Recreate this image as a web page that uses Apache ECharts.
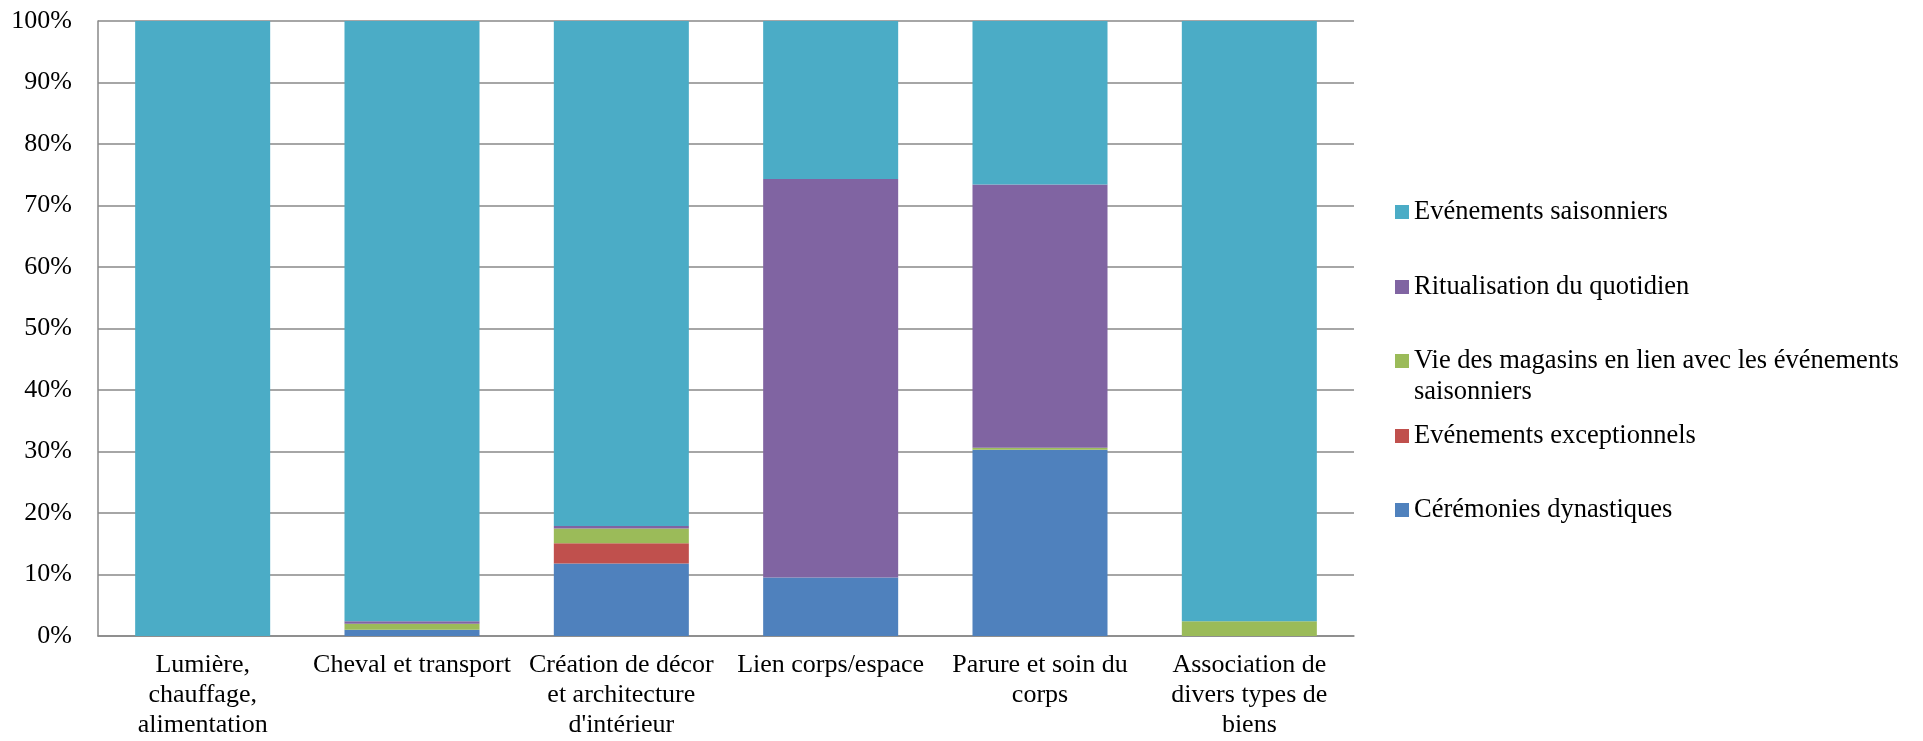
<!DOCTYPE html>
<html>
<head>
<meta charset="utf-8">
<script src="https://cdn.jsdelivr.net/npm/echarts@6/dist/echarts.min.js"></script>
<style>
html,body{margin:0;padding:0;background:#fff;}
#chart{width:1923px;height:741px;}
</style>
</head>
<body>
<div id="chart"></div>
<script>
var categories = [
  "Lumière,\nchauffage,\nalimentation",
  "Cheval et transport",
  "Création de décor\net architecture\nd'intérieur",
  "Lien corps/espace",
  "Parure et soin du\ncorps",
  "Association de\ndivers types de\nbiens"
];
var yTicks = [0, 10, 20, 30, 40, 50, 60, 70, 80, 90, 100];

var ceremonies     = [0, 1.0, 11.8, 9.5, 30.3, 0];
var exceptionnels  = [0, 0,   3.3,  0,   0,    0];
var magasins       = [0, 1.0, 2.4,  0,   0.3,  2.4];
var ritualisation  = [0, 0.4, 0.4,  64.8, 42.8, 0];
var saisonniers    = [100, 97.6, 82.1, 25.7, 26.6, 97.6];

var names = {
  ceremonies: "Cérémonies dynastiques",
  exceptionnels: "Evénements exceptionnels",
  magasins: "Vie des magasins en lien avec les événements saisonniers",
  ritualisation: "Ritualisation du quotidien",
  saisonniers: "Evénements saisonniers"
};
var magasinsLine1 = "Vie des magasins en lien avec les événements";
var magasinsLine2 = "saisonniers";

var colors = {
  ceremonies: "#4F81BD",
  exceptionnels: "#C0504D",
  magasins: "#9BBB59",
  ritualisation: "#8064A2",
  saisonniers: "#4BACC6"
};

var FONT = '"Liberation Serif", "Times New Roman", serif';
var LEG_FS = 26.5;
var chart = echarts.init(document.getElementById('chart'), null, {renderer: 'canvas'});

function mk(key, data) {
  return {
    name: names[key],
    type: 'bar',
    stack: 'total',
    data: data,
    barCategoryGap: '35.5%',
    itemStyle: {color: colors[key]},
    emphasis: {disabled: true}
  };
}

function legendItem(key, top, fmt) {
  var l = {
    show: true,
    orient: 'vertical',
    left: 1395,
    top: top,
    padding: 0,
    itemWidth: 14,
    itemHeight: 14,
    itemGap: 0,
    icon: 'rect',
    selectedMode: false,
    data: [names[key]],
    textStyle: {
      fontFamily: FONT,
      fontSize: LEG_FS,
      lineHeight: 30,
      color: '#000'
    }
  };
  if (fmt) l.formatter = fmt;
  return l;
}

var option = {
  animation: false,
  backgroundColor: '#fff',
  color: [colors.ceremonies, colors.exceptionnels, colors.magasins, colors.ritualisation, colors.saisonniers],
  grid: {left: 98, right: 569, top: 21, bottom: 105, containLabel: false},
  legend: [
    legendItem('saisonniers', 212 - 15),
    legendItem('ritualisation', 287 - 15),
    legendItem('magasins', 361 - 15, function () { return magasinsLine1; }),
    legendItem('exceptionnels', 436 - 15),
    legendItem('ceremonies', 510 - 15)
  ],
  graphic: [{
    type: 'text',
    left: 1414,
    top: 392 - 15,
    style: {
      text: magasinsLine2,
      fontFamily: FONT,
      fontSize: LEG_FS,
      lineHeight: 30,
      fill: '#000'
    }
  }],
  xAxis: {
    type: 'category',
    data: categories,
    axisLine: {show: true, lineStyle: {color: '#888', width: 1.5}},
    axisTick: {show: false},
    axisLabel: {
      interval: 0,
      margin: 14,
      fontFamily: FONT,
      fontSize: 26,
      lineHeight: 30,
      color: '#000',
      align: 'center'
    }
  },
  yAxis: {
    type: 'value',
    min: yTicks[0],
    max: yTicks[yTicks.length - 1],
    interval: yTicks[1] - yTicks[0],
    axisLine: {show: true, lineStyle: {color: '#888', width: 1.5}},
    axisTick: {show: false},
    splitLine: {show: true, lineStyle: {color: '#888', width: 1.5}},
    axisLabel: {
      margin: 26,
      fontFamily: FONT,
      fontSize: 26,
      color: '#000',
      formatter: '{value}%'
    }
  },
  series: [
    mk('ceremonies', ceremonies),
    mk('exceptionnels', exceptionnels),
    mk('magasins', magasins),
    mk('ritualisation', ritualisation),
    mk('saisonniers', saisonniers)
  ]
};
chart.setOption(option);
</script>
</body>
</html>
